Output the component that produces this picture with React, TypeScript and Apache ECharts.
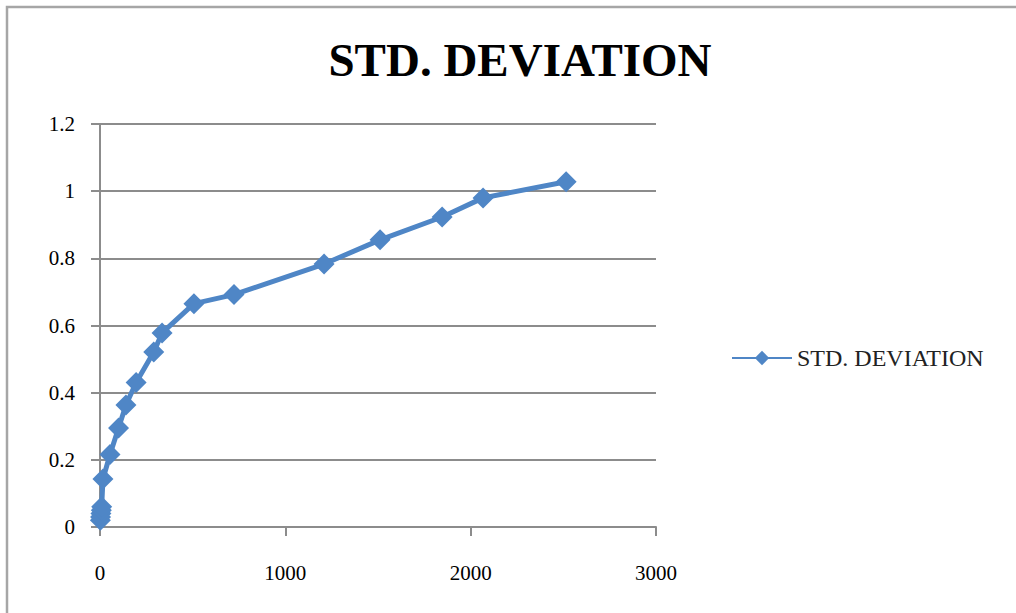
import React, { useEffect, useRef } from "react";
import * as echarts from "echarts";

const seriesName = "STD. DEVIATION";
const xValues = [2, 3, 5, 7, 9, 16, 54, 100, 140, 195, 290, 335, 507, 723, 1209, 1511, 1846, 2067, 2515];
const yValues = [0.02, 0.03, 0.04, 0.05, 0.06, 0.143, 0.216, 0.295, 0.363, 0.43, 0.521, 0.578, 0.665, 0.692, 0.783, 0.855, 0.923, 0.98, 1.028];
const yTicks = [0, 0.2, 0.4, 0.6, 0.8, 1, 1.2];
const xTicks = [0, 1000, 2000, 3000];

export default function App() {
  const ref = useRef<HTMLDivElement>(null);
  useEffect(() => {
    document.body.style.margin = "0";
    const chart = echarts.init(ref.current!, null, { renderer: "svg" });
    const serif = "'Liberation Serif', 'DejaVu Serif', serif";
    chart.setOption({
      animation: false,
      backgroundColor: "#ffffff",
      title: {
        text: "STD. DEVIATION",
        left: 515,
        top: 31,
        textAlign: "center",
        textStyle: { fontFamily: serif, fontWeight: "bold", fontSize: 47, color: "#000" },
      },
      graphic: [
        {
          type: "rect",
          shape: { x: 7, y: 7, width: 1040, height: 640 },
          style: { fill: "none", stroke: "#a6a6a6", lineWidth: 2.5 },
          silent: true,
        },
      ],
      legend: {
        left: 726,
        top: 341,
        itemWidth: 60,
        itemHeight: 18,
        itemGap: 2,
        textStyle: { fontFamily: serif, fontSize: 24, color: "#222" },
        data: [seriesName],
      },
      grid: { left: 100, right: 360, top: 124, bottom: 86, containLabel: false },
      xAxis: {
        type: "value",
        min: 0,
        max: 3000,
        interval: 1000,
        axisLine: { show: true, onZero: false, lineStyle: { color: "#8c8c8c", width: 2 } },
        axisTick: { show: true, length: 9, lineStyle: { color: "#8c8c8c", width: 2 } },
        splitLine: { show: false },
        axisLabel: { fontFamily: serif, fontSize: 21, color: "#000", margin: 35,
          formatter: (v: number) => (xTicks.includes(v) ? String(v) : "") },
      },
      yAxis: {
        type: "value",
        min: 0,
        max: 1.2,
        interval: 0.2,
        axisLine: { show: true, lineStyle: { color: "#8c8c8c", width: 2 } },
        axisTick: { show: true, length: 9, lineStyle: { color: "#8c8c8c", width: 2 } },
        splitLine: { show: true, lineStyle: { color: "#8c8c8c", width: 2 } },
        axisLabel: { fontFamily: serif, fontSize: 21, color: "#000", margin: 25,
          formatter: (v: number) => {
            const t = yTicks.find((k) => Math.abs(k - v) < 1e-9);
            return t === undefined ? "" : String(t);
          } },
      },
      series: [
        {
          name: seriesName,
          type: "line",
          data: xValues.map((x, i) => [x, yValues[i]]),
          symbol: "diamond",
          symbolSize: 21,
          lineStyle: { color: "#4f86c6", width: 5 },
          itemStyle: { color: "#4f86c6" },
        },
      ],
    });
    return () => chart.dispose();
  }, []);
  return <div ref={ref} style={{ width: 1016, height: 613 }} />;
}
